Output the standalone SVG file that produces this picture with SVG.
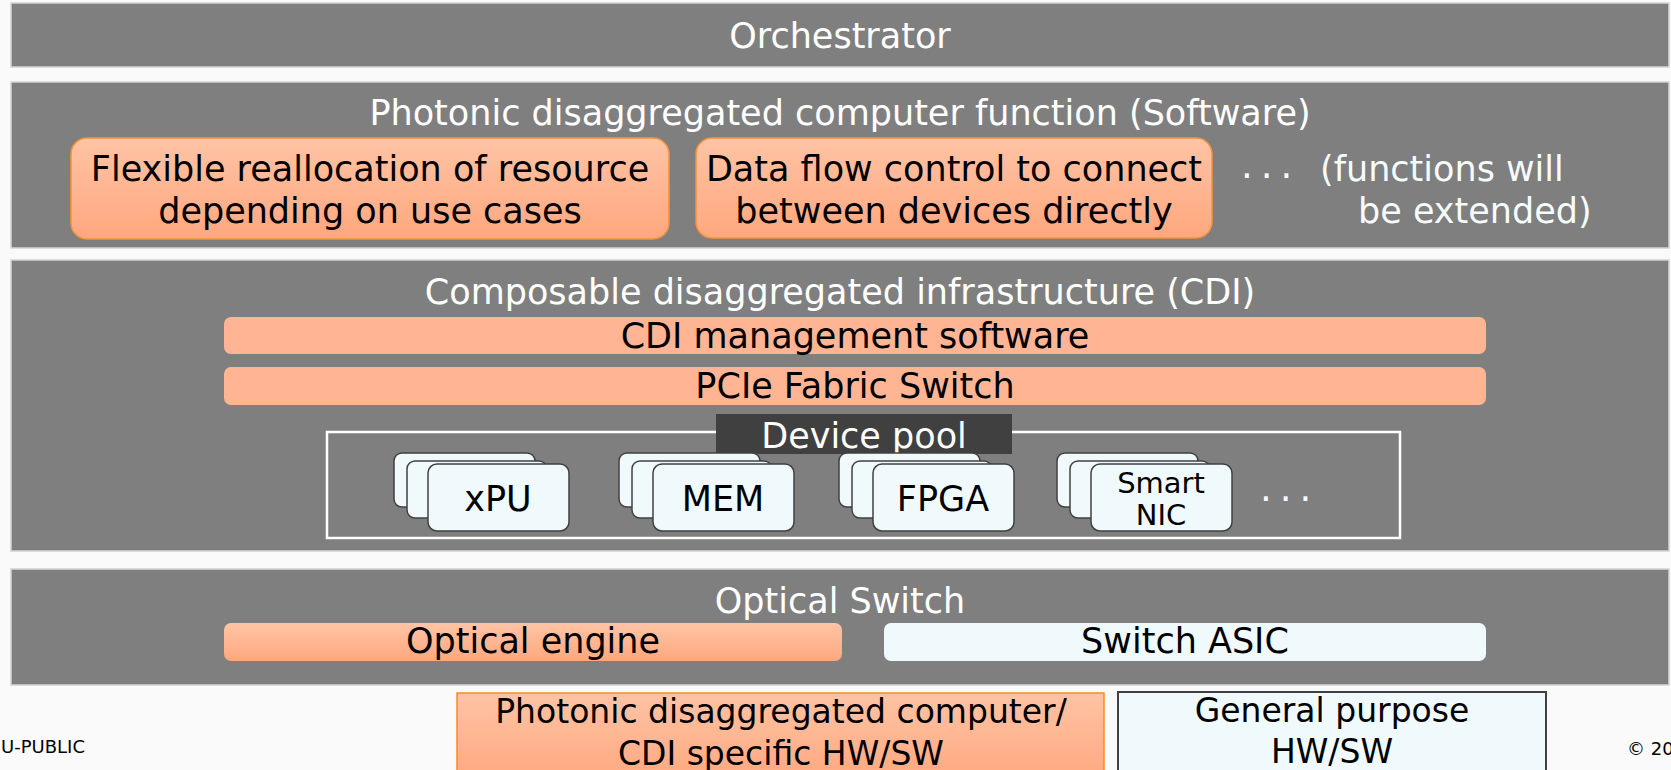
<svg xmlns="http://www.w3.org/2000/svg" width="1671" height="770" viewBox="0 0 1671 770">
<defs>
<linearGradient id="og" x1="0" y1="0" x2="0" y2="1">
<stop offset="0" stop-color="#FFC4A5"/>
<stop offset="1" stop-color="#FFA77E"/>
</linearGradient>
<style>
text{font-family:"DejaVu Sans","Noto Sans",sans-serif;text-anchor:middle}
.band{fill:#7F7F7F;stroke:#D4D4D4;stroke-width:1.5}
.title{fill:#FFFFFF;font-size:35px}
.dark{fill:#000000;font-size:35px}
.leg{fill:#000000;font-size:33px}
.fn{fill:url(#og);stroke:#F7923A;stroke-width:1.5}
.bar{fill:#FFB594}
.grad{fill:url(#og)}
.gp{fill:#F0FAFC}
.card{fill:#F0FAFC;stroke:#404040;stroke-width:1.5}
.white{fill:#F6FBFC;font-size:35px}
.dots{fill:#F6FBFC;font-size:37px;text-anchor:start;letter-spacing:8px}
.small{fill:#000000;font-size:18px}
</style>
</defs>
<rect x="0" y="0" width="1671" height="770" fill="#FAFAFA"/>

<g id="orchestrator">
<rect class="band" x="11" y="3" width="1658" height="64"/>
<text class="title" x="840" y="48">Orchestrator</text>
</g>

<g id="function-layer">
<rect class="band" x="11" y="82" width="1658" height="166"/>
<text class="title" x="840" y="125">Photonic disaggregated computer function (Software)</text>
</g>

<g id="flexible-reallocation">
<rect class="fn" x="71" y="138" width="598" height="101" rx="16"/>
<text class="dark" x="370" y="181">Flexible reallocation of resource</text>
<text class="dark" x="370" y="223">depending on use cases</text>
</g>

<g id="data-flow-control">
<rect class="fn" x="696" y="138" width="516" height="100" rx="16"/>
<text class="dark" x="954" y="181">Data flow control to connect</text>
<text class="dark" x="954" y="223">between devices directly</text>
</g>

<g id="functions-extended">
<text class="dots" x="1241" y="178">...</text>
<text class="white" x="1320" y="181" style="text-anchor:start">(functions will</text>
<text class="white" x="1358" y="223" style="text-anchor:start">be extended)</text>
</g>

<g id="cdi-layer">
<rect class="band" x="11" y="260" width="1658" height="291"/>
<text class="title" x="840" y="304">Composable disaggregated infrastructure (CDI)</text>
</g>

<g id="cdi-management">
<rect class="bar" x="224" y="317" width="1262" height="37" rx="7"/>
<text class="dark" x="855" y="348">CDI management software</text>
</g>

<g id="pcie-switch">
<rect class="bar" x="224" y="367" width="1262" height="38" rx="7"/>
<text class="dark" x="855" y="398">PCIe Fabric Switch</text>
</g>

<g id="device-pool">
<rect x="327" y="432" width="1073" height="106" fill="none" stroke="#FFFFFF" stroke-width="2.5"/>
<rect x="716" y="414" width="296" height="40" fill="#404040"/>
<text class="title" x="864" y="448">Device pool</text>
<text class="dots" x="1260" y="501">...</text>
</g>

<g id="xpu">
<rect class="card" x="394" y="453" width="141" height="54" rx="8"/>
<rect class="card" x="407" y="461" width="140" height="57" rx="8"/>
<rect class="card" x="428" y="464" width="141" height="67" rx="9"/>
<text class="dark" x="498" y="511">xPU</text>
</g>

<g id="mem">
<rect class="card" x="619" y="453" width="141" height="54" rx="8"/>
<rect class="card" x="632" y="461" width="140" height="57" rx="8"/>
<rect class="card" x="653" y="464" width="141" height="67" rx="9"/>
<text class="dark" x="723" y="511">MEM</text>
</g>

<g id="fpga">
<rect class="card" x="839" y="453" width="141" height="54" rx="8"/>
<rect class="card" x="852" y="461" width="140" height="57" rx="8"/>
<rect class="card" x="873" y="464" width="141" height="67" rx="9"/>
<text class="dark" x="943" y="511">FPGA</text>
</g>

<g id="smartnic">
<rect class="card" x="1057" y="453" width="141" height="54" rx="8"/>
<rect class="card" x="1070" y="461" width="140" height="57" rx="8"/>
<rect class="card" x="1091" y="464" width="141" height="67" rx="9"/>
<text class="dark" x="1161" y="493" style="font-size:29px">Smart</text>
<text class="dark" x="1161" y="525" style="font-size:29px">NIC</text>
</g>

<g id="optical-switch">
<rect class="band" x="11" y="569" width="1658" height="116"/>
<text class="title" x="840" y="613">Optical Switch</text>
</g>

<g id="optical-engine">
<rect class="grad" x="224" y="623" width="618" height="38" rx="7"/>
<text class="dark" x="533" y="653">Optical engine</text>
</g>

<g id="switch-asic">
<rect class="gp" x="884" y="623" width="602" height="38" rx="7"/>
<text class="dark" x="1185" y="653">Switch ASIC</text>
</g>

<g id="legend-specific">
<rect x="457" y="693" width="647" height="90" fill="url(#og)" stroke="#FF8A1A" stroke-width="1.5"/>
<text class="leg" x="781" y="723">Photonic disaggregated computer/</text>
<text class="leg" x="781" y="765">CDI specific HW/SW</text>
</g>

<g id="legend-general">
<rect x="1118" y="692" width="428" height="90" fill="#F0FAFC" stroke="#404040" stroke-width="2"/>
<text class="leg" x="1332" y="722">General purpose</text>
<text class="leg" x="1332" y="763">HW/SW</text>
</g>

<g id="footer">
<text class="small" x="1" y="753" style="text-anchor:start">U-PUBLIC</text>
<text class="small" x="1627" y="755" style="text-anchor:start">© 20</text>
</g>

<g id="connectors"></g>
</svg>
